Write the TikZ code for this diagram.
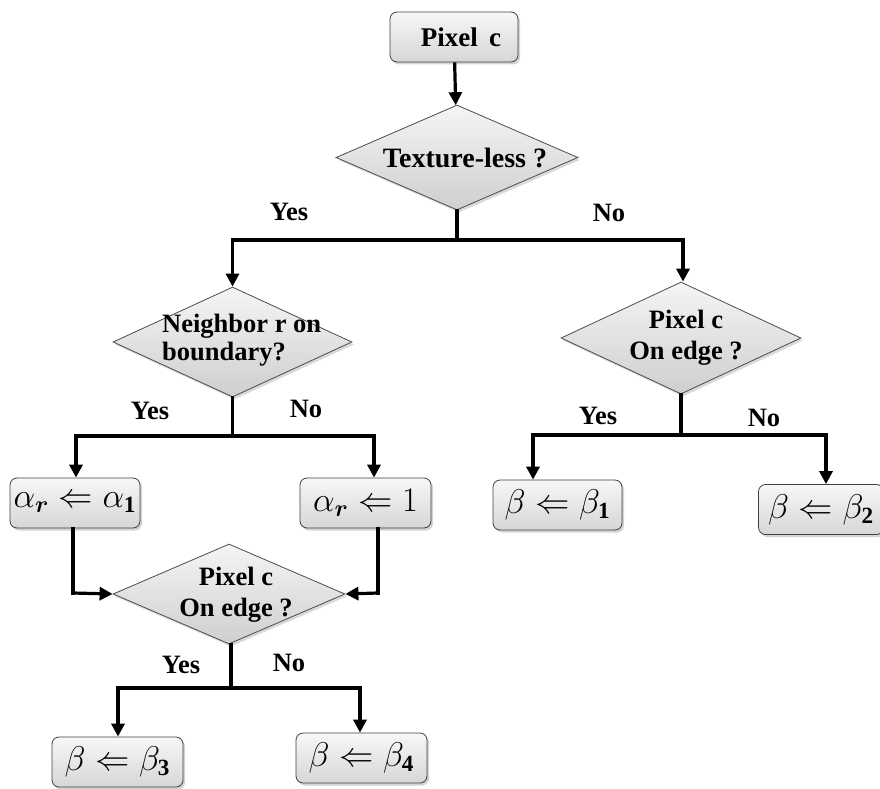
\documentclass[tikz,border=0pt]{standalone}
\usepackage{fontspec}
\usepackage{bm}
\setmainfont{Liberation Serif}
\usetikzlibrary{shapes.geometric,arrows.meta,shadows}

% enlarged formula for the assignment boxes
\newcommand\assign[1]{\scalebox{1.38}{$#1$}}

\tikzset{
  procbox/.style={draw=black!75, line width=0.8pt, rounded corners=7pt,
    top color=gray!6, bottom color=gray!32, inner sep=0pt,
    minimum height=50pt,
    drop shadow={shadow xshift=2pt, shadow yshift=-2.5pt, opacity=0.35},
    font=\fontsize{24}{26}\selectfont},
  decision/.style={diamond, draw=black!70, line width=0.8pt,
    top color=gray!8, bottom color=gray!38, inner sep=0pt,
    drop shadow={shadow xshift=2pt, shadow yshift=-2.5pt, opacity=0.3}},
  lbl/.style={font=\bfseries\fontsize{26.5}{30}\selectfont, inner sep=0pt},
  flow/.style={line width=3.2pt, line cap=rect},
  arr/.style={line width=3.2pt, -{Triangle[length=13pt,width=13pt]}}
}

\begin{document}
\begin{tikzpicture}[x=1pt,y=-1pt]
\useasboundingbox (0,0) rectangle (880,789);

% start box
\node[procbox, minimum width=128pt] (start) at (454,37) {};
\node[lbl, font=\bfseries\fontsize{27}{30}\selectfont] (starttxt) at (461,37) {Pixel\, c};

% first decision
\node[decision, minimum width=242pt, minimum height=105pt] (d1) at (457,157.5) {};
\node[lbl, font=\bfseries\fontsize{28}{30}\selectfont] (d1txt) at (465,158) {Texture-less ?};

% second-level decisions
\node[decision, minimum width=239pt, minimum height=110pt] (d2) at (232.5,342) {};
\node[lbl, align=left, anchor=north west] (d2txt) at (162,314)
  {Neighbor r on\\[-2pt]boundary?};
\node[decision, minimum width=240pt, minimum height=112pt] (d3) at (681,338) {};
\node[lbl, align=center] (d3txt) at (686,338) {Pixel c\\[1pt]On edge ?};

% weight assignment boxes
\node[procbox, minimum width=130pt] (a1) at (75,503) {\assign{\alpha_{\bm r}\Leftarrow\alpha_{\mathbf 1}}};
\node[procbox, minimum width=131pt] (a2) at (365.5,503) {\assign{\alpha_{\bm r}\Leftarrow 1}};
\node[procbox, minimum width=129pt] (b1) at (557.5,505) {\assign{\beta\Leftarrow\beta_{\mathbf 1}}};
\node[procbox, minimum width=125pt] (b2) at (821,509.5) {\assign{\beta\Leftarrow\beta_{\mathbf 2}}};

% third decision
\node[decision, minimum width=232pt, minimum height=100pt] (d4) at (229,594) {};
\node[lbl, align=center] (d4txt) at (236,595) {Pixel c\\[1pt]On edge ?};

% final boxes
\node[procbox, minimum width=131pt] (b3) at (117.5,762) {\assign{\beta\Leftarrow\beta_{\mathbf 3}}};
\node[procbox, minimum width=131pt] (b4) at (361.5,758) {\assign{\beta\Leftarrow\beta_{\mathbf 4}}};

% branch labels
\node[lbl] (y1) at (289,212) {Yes};
\node[lbl] (n1) at (609,213) {No};
\node[lbl] (y2) at (150,411) {Yes};
\node[lbl] (n2) at (306,409) {No};
\node[lbl] (y3) at (598,416) {Yes};
\node[lbl] (n3) at (764,418) {No};
\node[lbl] (y4) at (181,665) {Yes};
\node[lbl] (n4) at (289,663) {No};

% junction points
\coordinate (j1) at (457,240);
\coordinate (j1l) at (232.5,240);
\coordinate (j1r) at (683,240);
\coordinate (j2) at (232.5,436);
\coordinate (j2l) at (76,436);
\coordinate (j2r) at (374,436);
\coordinate (j3) at (681,435);
\coordinate (j3l) at (533,435);
\coordinate (j3r) at (826,435);
\coordinate (j4) at (231,688);
\coordinate (j4l) at (118,688);
\coordinate (j4r) at (360,688);
\coordinate (k1) at (73,593);
\coordinate (k2) at (378,593);

% connectors
\draw[arr] (start) -- (d1);
\draw[flow] (d1.south) -- (j1);
\draw[flow] (j1l) -- (j1r);
\draw[arr] (j1l) -- (d2.north);
\draw[arr] (j1r) -- (j1r |- d3.north);

\draw[flow] (d2.south) -- (j2);
\draw[flow] (j2l) -- (j2r);
\draw[arr] (j2l) -- (j2l |- a1.north);
\draw[arr] (j2r) -- (j2r |- a2.north);

\draw[flow] (d3.south) -- (j3);
\draw[flow] (j3l) -- (j3r);
\draw[arr] (j3l) -- (j3l |- b1.north);
\draw[arr] (j3r) -- (j3r |- b2.north);

\draw[flow] (a1.south -| k1) -- (k1);
\draw[arr] (k1) -- (d4.west);
\draw[flow] (a2.south -| k2) -- (k2);
\draw[arr] (k2) -- (d4.east);

\draw[flow] (d4.south -| j4) -- (j4);
\draw[flow] (j4l) -- (j4r);
\draw[arr] (j4l) -- (j4l |- b3.north);
\draw[arr] (j4r) -- (j4r |- b4.north);
\end{tikzpicture}
\end{document}
